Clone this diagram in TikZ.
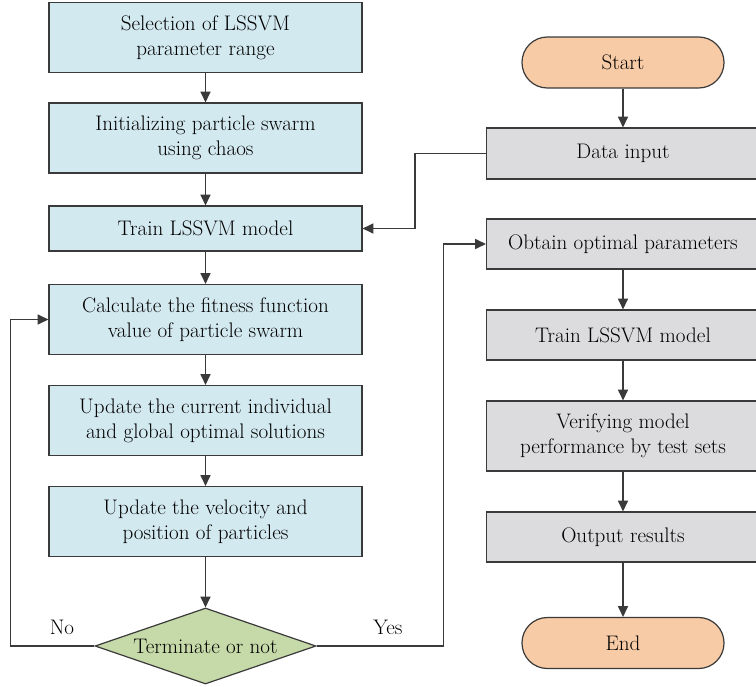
\documentclass[tikz,border=0pt]{standalone}
\usepackage{tikz}
\usepackage{xcolor}
\usetikzlibrary{shapes.geometric, arrows.meta, positioning}

\definecolor{boxblue}{HTML}{D3E9F0}
\definecolor{boxgray}{HTML}{DCDCDE}
\definecolor{boxorange}{HTML}{F7CBA6}
\definecolor{boxgreen}{HTML}{C6D9A8}
\definecolor{edgegray}{HTML}{3A3A3A}

\begin{document}
\begin{tikzpicture}[x=0.75pt, y=-0.75pt, line width=0.9pt,
    >={Triangle[length=8pt, width=7.5pt]},
    font=\fontsize{15.8}{19}\selectfont,
    leftbox/.style={draw=edgegray, fill=boxblue, align=center, inner sep=0pt,
        minimum width=234.75pt},
    rightbox/.style={draw=edgegray, fill=boxgray, align=center, inner sep=0pt,
        minimum width=204.75pt},
    terminal/.style={draw=edgegray, fill=boxorange, rounded corners=19pt,
        inner sep=0pt, minimum width=151.5pt, minimum height=38.25pt},
    decision/.style={draw=edgegray, fill=boxgreen, diamond, aspect=2.9, inner sep=0pt,
        minimum width=165.75pt, minimum height=57pt},
    flow/.style={->, draw=edgegray}]
    \useasboundingbox (0,0) rectangle (756,686);

    % Nodes
    \node[leftbox, minimum height=52.5pt] (select) at (205.5, 37.5) {Selection of LSSVM\\parameter range};
    \node[leftbox, minimum height=52.5pt] (init) at (205.5, 138) {Initializing particle swarm\\using chaos};
    \node[leftbox, minimum height=33.75pt] (trainA) at (205.5, 228.5) {Train LSSVM model};
    \node[leftbox, minimum height=52.5pt] (calc) at (205.5, 319.5) {Calculate the fitness function\\value of particle swarm};
    \node[leftbox, minimum height=52.5pt] (best) at (205.5, 420.5) {Update the current individual\\and global optimal solutions};
    \node[leftbox, minimum height=52.5pt] (move) at (205.5, 521.5) {Update the velocity and\\position of particles};
    \node[decision] (term) at (205.5, 646) {Terminate or not};

    \node[terminal] (start) at (623, 62.5) {Start};
    \node[rightbox, minimum height=38.25pt] (data) at (623, 153.5) {Data input};
    \node[rightbox, minimum height=37.5pt] (obtain) at (623, 244) {Obtain optimal parameters};
    \node[rightbox, minimum height=37.5pt] (trainB) at (623, 335) {Train LSSVM model};
    \node[rightbox, minimum height=52.5pt] (verify) at (623, 436) {Verifying model\\performance by test sets};
    \node[rightbox, minimum height=37.5pt] (output) at (623, 537) {Output results};
    \node[terminal] (finish) at (623, 643) {End};

    \node (no) at (62, 627) {No};
    \node (yes) at (388, 627) {Yes};

    % Paths
    \draw[flow] (select) -- (init);
    \draw[flow] (init) -- (trainA);
    \draw[flow] (trainA) -- (calc);
    \draw[flow] (calc) -- (best);
    \draw[flow] (best) -- (move);
    \draw[flow] (move) -- (term);
    \draw[flow] (term.west) -- ++(-84,0) |- (calc.west);
    \draw[flow] (term.east) -- ++(126.6,0) |- (obtain.west);

    \draw[flow] (start) -- (data);
    \draw[flow] (data.west) -- ++(-71,0) |- (trainA.east);
    \draw[flow] (obtain) -- (trainB);
    \draw[flow] (trainB) -- (verify);
    \draw[flow] (verify) -- (output);
    \draw[flow] (output) -- (finish);
\end{tikzpicture}
\end{document}
